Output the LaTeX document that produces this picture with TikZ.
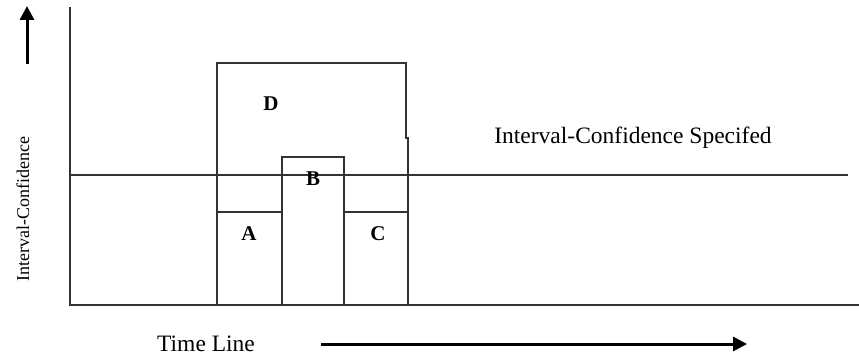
\documentclass[tikz,border=0pt]{standalone}
\usepackage{fontspec}
\setmainfont{Liberation Serif}
\usetikzlibrary{arrows.meta}
\begin{document}
\begin{tikzpicture}[x=1pt,y=-1pt,
  frame/.style={line width=1.4pt,draw=black!80},
  bigarrow/.style={line width=3pt,-{Triangle[length=14pt,width=14pt]}},
  lbl/.style={font=\fontsize{23.5}{27}\selectfont,inner sep=0pt},
  letter/.style={font=\fontsize{21}{24}\selectfont\bfseries,inner sep=0pt}]
\useasboundingbox (0,0) rectangle (859,358);
% axes
\draw[frame] (70,7) -- (70,305) -- (859,305);
% specified level
\draw[frame] (70,175) -- (848,175);
% D box
\draw[frame] (217,305) -- (217,63) -- (406,63) -- (406,138) -- (408,138) -- (408,305);
% B box
\draw[frame] (282,305) -- (282,157) -- (344,157) -- (344,305);
% A and C tops
\draw[frame] (217,212) -- (282,212);
\draw[frame] (344,212) -- (408,212);
% labels
\node[letter] (D) at (271,104) {D};
\node[letter] (B) at (313,179) {B};
\node[letter] (A) at (249,234) {A};
\node[letter] (C) at (378,234) {C};
\node[lbl] (spec) at (633,138) {Interval-Confidence Specifed};
\node[lbl,font=\fontsize{18}{20}\selectfont,rotate=90] (ylab) at (23,209) {Interval-Confidence};
\node[lbl] (time) at (206,344) {Time Line};
% arrows
\coordinate (up0) at (27,64);
\coordinate (up1) at (27,6);
\draw[bigarrow] (up0) -- (up1);
\coordinate (r0) at (321,344);
\coordinate (r1) at (747,344);
\draw[bigarrow] (r0) -- (r1);
\end{tikzpicture}
\end{document}
